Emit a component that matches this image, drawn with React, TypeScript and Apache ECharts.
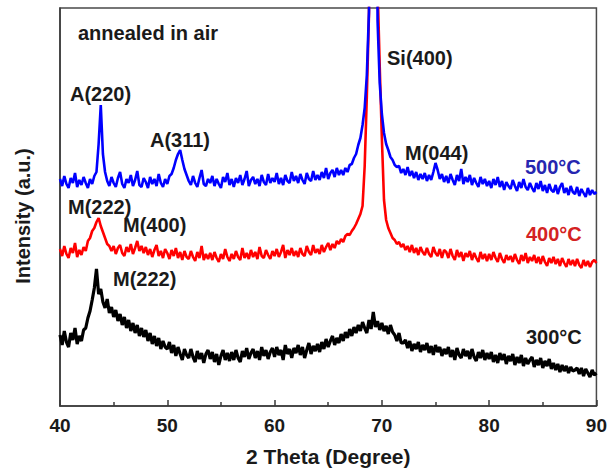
import React, { useEffect, useRef } from "react";
import * as echarts from "echarts";

// 2θ sampling grid: 40.0 .. 90.0, step 0.2
const twoTheta: number[] = Array.from({ length: 251 }, (_, i) => Math.round((40 + i * 0.2) * 10) / 10);

// Intensities (a.u.), one value per grid point
const int500: number[] = [
  227, 220, 230, 222, 218, 228, 223, 233, 219, 226,
  221, 229, 223, 218, 227, 222, 230, 234, 262, 301,
  252, 234, 225, 220, 229, 223, 219, 228, 234, 222,
  218, 227, 223, 231, 220, 226, 235, 221, 219, 228,
  224, 218, 229, 222, 227, 220, 232, 223, 219, 227,
  222, 230, 232, 238, 246, 252, 256, 246, 237, 231,
  225, 221, 230, 223, 219, 228, 236, 222, 220, 227,
  223, 230, 220, 227, 222, 218, 229, 224, 233, 221,
  227, 219, 228, 223, 231, 221, 227, 235, 220, 226,
  229, 222, 227, 220, 231, 224, 221, 232, 223, 228,
  224, 233, 222, 228, 221, 231, 225, 223, 234, 225,
  230, 223, 232, 226, 222, 233, 227, 225, 235, 226,
  231, 226, 234, 228, 238, 227, 233, 236, 229, 238,
  231, 236, 231, 238, 234, 241, 242, 248, 252, 261,
  268, 281, 298, 331, 395, 800, 950, 780, 385, 323,
  292, 273, 262, 256, 249, 246, 241, 239, 240, 233,
  237, 231, 239, 230, 235, 228, 234, 226, 232, 227,
  233, 225, 231, 226, 234, 243, 236, 227, 232, 224,
  230, 223, 232, 226, 221, 231, 225, 237, 222, 229,
  224, 231, 221, 228, 223, 219, 229, 222, 227, 220,
  225, 218, 227, 221, 229, 219, 225, 216, 224, 220,
  217, 226, 220, 215, 224, 218, 227, 219, 216, 223,
  218, 214, 223, 217, 225, 215, 221, 213, 222, 216,
  214, 221, 212, 219, 223, 213, 218, 211, 220, 214,
  212, 219, 210, 217, 213, 209, 218, 211, 216, 212,
  214,
];

const int400: number[] = [
  157, 150, 160, 152, 148, 158, 153, 163, 149, 156,
  151, 159, 155, 165, 168, 175, 178, 184, 188, 180,
  174, 168, 162, 160, 155, 160, 152, 158, 161, 153,
  150, 159, 154, 162, 152, 158, 165, 155, 160, 153,
  159, 151, 157, 149, 156, 161, 150, 155, 148, 157,
  153, 147, 156, 150, 158, 148, 154, 146, 155, 149,
  147, 155, 149, 145, 154, 148, 160, 146, 152, 147,
  153, 146, 154, 148, 144, 152, 147, 157, 149, 145,
  152, 147, 155, 149, 146, 158, 148, 153, 147, 156,
  149, 154, 147, 159, 150, 148, 156, 151, 147, 155,
  150, 157, 149, 154, 161, 148, 156, 151, 158, 150,
  155, 149, 158, 152, 150, 160, 154, 151, 161, 153,
  157, 152, 161, 154, 159, 163, 156, 162, 158, 165,
  162, 167, 164, 170, 172, 171, 175, 178, 182, 187,
  192, 200, 240, 310, 392, 750, 950, 820, 420, 340,
  268, 206, 186, 178, 173, 168, 166, 162, 164, 159,
  162, 156, 160, 154, 161, 153, 158, 151, 159, 154,
  151, 158, 152, 149, 159, 153, 150, 157, 148, 156,
  154, 148, 157, 150, 146, 156, 149, 154, 145, 153,
  149, 155, 146, 153, 148, 144, 154, 147, 152, 145,
  152, 146, 154, 148, 144, 153, 147, 143, 151, 146,
  150, 144, 152, 146, 142, 151, 145, 153, 143, 149,
  145, 151, 143, 149, 142, 150, 144, 140, 148, 143,
  149, 142, 147, 140, 148, 143, 139, 147, 141, 146,
  140, 147, 141, 138, 146, 140, 145, 139, 144, 146,
  143,
];

const int300: number[] = [
  71, 61, 75, 64, 59, 73, 66, 78, 62, 70,
  65, 76, 78, 88, 95, 106, 118, 137, 112, 117,
  104, 98, 107, 93, 99, 89, 96, 85, 92, 81,
  89, 78, 86, 75, 83, 73, 81, 70, 78, 69,
  76, 65, 73, 62, 70, 60, 68, 57, 65, 59,
  57, 64, 53, 61, 50, 59, 52, 46, 57, 51,
  48, 57, 49, 44, 55, 47, 53, 43, 52, 56,
  47, 54, 44, 52, 41, 50, 56, 46, 53, 45,
  54, 46, 56, 48, 44, 55, 49, 58, 47, 53,
  57, 48, 55, 46, 59, 50, 56, 47, 54, 58,
  49, 59, 51, 56, 46, 61, 52, 57, 48, 58,
  53, 61, 51, 59, 48, 56, 63, 52, 60, 55,
  62, 54, 64, 57, 67, 59, 65, 70, 61, 68,
  63, 72, 65, 74, 68, 77, 70, 79, 73, 81,
  75, 84, 78, 73, 86, 77, 94, 79, 85, 76,
  83, 75, 80, 72, 81, 74, 71, 65, 73, 63,
  63, 66, 58, 65, 55, 62, 57, 64, 54, 61,
  56, 63, 53, 60, 51, 61, 54, 59, 50, 57,
  52, 59, 49, 56, 46, 58, 51, 48, 57, 50,
  55, 47, 57, 49, 45, 54, 48, 56, 46, 53,
  47, 54, 44, 51, 43, 53, 46, 52, 42, 50,
  45, 52, 41, 49, 43, 51, 40, 48, 42, 46,
  49, 39, 46, 41, 48, 38, 45, 40, 47, 37,
  43, 36, 42, 34, 41, 35, 40, 33, 39, 35,
  36, 38, 32, 38, 30, 37, 33, 29, 36, 31,
  33,
];

const xTicks = { min: 40, max: 90, interval: 10 };
const seriesNames = ["300°C", "400°C", "500°C"];

type Note = { text: string; x: number; y: number; color: string };
const notes: Note[] = [
  { text: "annealed in air", x: 78, y: 33, color: "#1a1a1a" },
  { text: "A(220)", x: 70, y: 94, color: "#1a1a1a" },
  { text: "A(311)", x: 150, y: 140, color: "#1a1a1a" },
  { text: "Si(400)", x: 387, y: 58, color: "#1a1a1a" },
  { text: "M(044)", x: 405, y: 153, color: "#1a1a1a" },
  { text: "500°C", x: 525, y: 167, color: "#2626b0" },
  { text: "M(222)", x: 68, y: 207, color: "#1a1a1a" },
  { text: "M(400)", x: 123, y: 225, color: "#1a1a1a" },
  { text: "400°C", x: 526, y: 234, color: "#d42222" },
  { text: "M(222)", x: 113, y: 279, color: "#1a1a1a" },
  { text: "300°C", x: 526, y: 337, color: "#1a1a1a" },
];

const FONT = "Liberation Sans, Arial, Helvetica, sans-serif";

export default function App() {
  const ref = useRef<HTMLDivElement>(null);
  useEffect(() => {
    if (!ref.current) return;
    const chart = echarts.init(ref.current, undefined, { renderer: "svg" });
    const mk = (arr: number[]) => twoTheta.map((x, i) => [x, arr[i]]);
    chart.setOption({
      animation: false,
      backgroundColor: "#ffffff",
      grid: {
        left: 60,
        right: 10,
        top: 8,
        bottom: 67,
        show: true,
        borderColor: "#4a4a4a",
        borderWidth: 1.5,
        backgroundColor: "transparent",
      },
      xAxis: {
        type: "value",
        min: xTicks.min,
        max: xTicks.max,
        interval: xTicks.interval,
        name: "2 Theta (Degree)",
        nameLocation: "middle",
        nameGap: 40,
        nameTextStyle: { fontFamily: FONT, fontWeight: "bold", fontSize: 21, color: "#1a1a1a" },
        axisLine: { show: true, lineStyle: { color: "#3a3a3a", width: 1.5 } },
        axisTick: { show: true, inside: true, length: 6, lineStyle: { color: "#3a3a3a", width: 1.5 } },
        minorTick: { show: true, splitNumber: 2, length: 4, lineStyle: { color: "#3a3a3a", width: 1.5 } },
        axisLabel: { fontFamily: FONT, fontWeight: "bold", fontSize: 19, color: "#1a1a1a", margin: 10 },
        splitLine: { show: false },
      },
      yAxis: {
        type: "value",
        min: 0,
        max: 398,
        axisLine: { show: true, lineStyle: { color: "#3a3a3a", width: 1.5 } },
        axisTick: { show: false },
        axisLabel: { show: false },
        splitLine: { show: false },
      },
      series: [
        { name: seriesNames[0], type: "line", data: mk(int300), showSymbol: false, lineStyle: { color: "#000000", width: 3.2 }, clip: true },
        { name: seriesNames[1], type: "line", data: mk(int400), showSymbol: false, lineStyle: { color: "#ff0000", width: 2.6 }, clip: true },
        { name: seriesNames[2], type: "line", data: mk(int500), showSymbol: false, lineStyle: { color: "#0000ff", width: 2.6 }, clip: true },
      ],
      graphic: [
        ...notes.map((n) => ({
          type: "text",
          x: n.x,
          y: n.y,
          style: {
            text: n.text,
            font: `bold 20px ${FONT}`,
            fill: n.color,
            align: "left",
            verticalAlign: "middle",
          },
        })),
        {
          type: "text",
          x: 23,
          y: 216,
          rotation: Math.PI / 2,
          style: {
            text: "Intensity (a.u.)",
            font: `bold 20px ${FONT}`,
            fill: "#1a1a1a",
            align: "center",
            verticalAlign: "middle",
          },
        },
      ],
    });
    return () => chart.dispose();
  }, []);
  return <div ref={ref} style={{ position: "fixed", left: 0, top: 0, width: 610, height: 473, background: "#fff" }} />;
}
